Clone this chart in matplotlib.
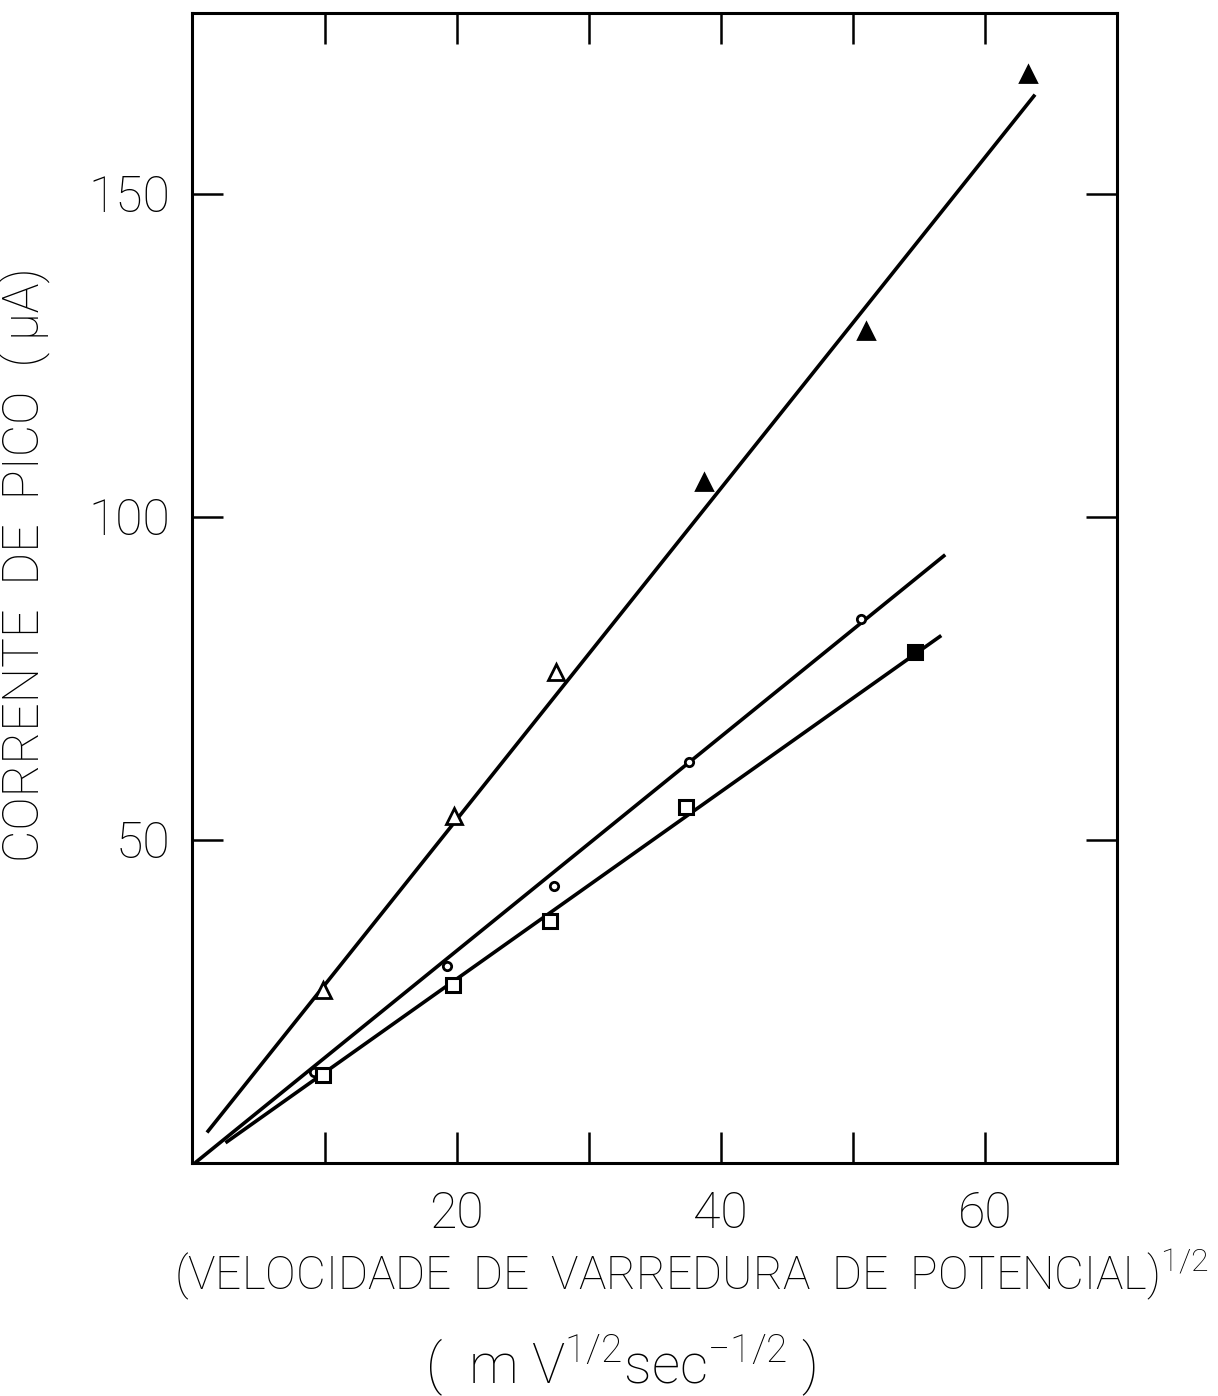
import matplotlib
matplotlib.use("Agg")
import matplotlib.pyplot as plt

# data
tri_x = [9.9, 19.8, 27.5, 38.7, 51.0, 63.3]
tri_y = [26.8, 53.6, 76.0, 105.4, 128.8, 168.5]
tri_filled = [False, False, False, True, True, True]

circ_x = [9.2, 19.3, 27.4, 37.6, 50.6]
circ_y = [14.0, 30.4, 42.8, 62.0, 84.2]

sq_x = [9.9, 19.7, 27.1, 37.4, 54.7]
sq_y = [13.6, 27.6, 37.4, 55.0, 79.1]
sq_filled = [False, False, False, False, True]

# fitted lines (end points)
tri_line_x = [1.1, 63.8]
tri_line_y = [4.7, 165.3]
circ_line_x = [0.2, 57.0]
circ_line_y = [0.0, 94.1]
sq_line_x = [2.5, 56.7]
sq_line_y = [3.1, 81.6]

xticks_major = [20, 40, 60]
xticks_all = [10, 20, 30, 40, 50, 60]
yticks = [50, 100, 150]

plt.rcParams['font.family'] = ['Roboto', 'DejaVu Sans']
plt.rcParams['font.weight'] = 'light'
plt.rcParams['axes.labelweight'] = 'light'
plt.rcParams['mathtext.fontset'] = 'custom'
plt.rcParams['mathtext.rm'] = 'Roboto:light'
plt.rcParams['mathtext.it'] = 'Roboto:light'

fig = plt.figure(figsize=(12.18, 13.96), dpi=100)
ax = fig.add_axes([0.158, 0.167, 0.759, 0.824])

k = 'black'
ax.plot(tri_line_x, tri_line_y, color=k, lw=2.6, solid_capstyle='butt')
ax.plot(circ_line_x, circ_line_y, color=k, lw=2.6, solid_capstyle='butt')
ax.plot(sq_line_x, sq_line_y, color=k, lw=2.6, solid_capstyle='butt')

for x, y, f in zip(tri_x, tri_y, tri_filled):
    ax.plot(x, y, marker='^', ms=12, mec=k, mew=2, mfc=k if f else 'white', ls='none')
ax.plot(circ_x, circ_y, 'o', ms=6, mec=k, mew=2, mfc='white')
for x, y, f in zip(sq_x, sq_y, sq_filled):
    ax.plot(x, y, marker='s', ms=10, mec=k, mew=2.2, mfc=k if f else 'white', ls='none')

ax.set_xlim(0, 70)
ax.set_ylim(0, 178)

ax.set_xticks(xticks_all)
ax.set_xticklabels([str(t) if t in xticks_major else '' for t in xticks_all])
ax.set_yticks(yticks)
ax.set_yticklabels([str(t) for t in yticks])
ax.tick_params(direction='in', length=22, width=1.8, top=True, right=True,
               labelsize=36, pad=20)
ax.tick_params(axis='y', pad=16)
for s in ax.spines.values():
    s.set_linewidth(2.2)

ax.set_ylabel(u'CORRENTE  DE  PICO  ( \u03bcA)', fontsize=36)
ax.yaxis.set_label_coords(-0.153, 0.52)
fig.text(0.568, 0.087, r'(VELOCIDADE  DE  VARREDURA  DE  POTENCIAL)$^{\mathregular{1/2}}$',
         fontsize=33, ha='center', va='center')
fig.text(0.51, 0.022, r'(  m V$^{\mathregular{1/2}}$sec$^{\mathregular{-1/2}}$ )',
         fontsize=40, ha='center', va='center')

fig.savefig('out.png', dpi=100)
